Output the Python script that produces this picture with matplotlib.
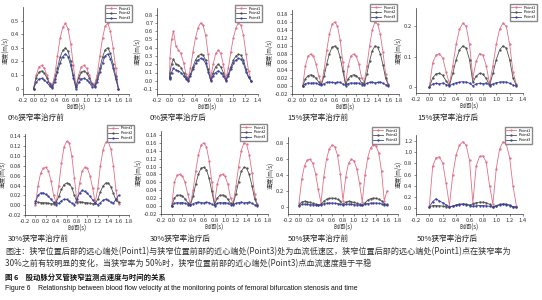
import numpy as np
import matplotlib
matplotlib.use("Agg")
import matplotlib.pyplot as plt

plt.rcParams['font.family'] = ['Noto Sans CJK SC', 'DejaVu Sans']

W, H = 542, 300

# ---------------- data ----------------
t_a = np.round(np.arange(0, 1.601, 0.05), 3)   # 0 .. 1.6
t_b = np.round(np.arange(0, 1.301, 0.05), 3)   # 0 .. 1.3
t_2 = [0, 0.005, 0.03, 0.06, 0.1, 0.14, 0.18, 0.22, 0.26, 0.29, 0.33, 0.37, 0.41,
       0.45, 0.49, 0.53, 0.57, 0.61, 0.65, 0.69, 0.73, 0.77, 0.81, 0.85, 0.89,
       0.93, 0.97, 1.01, 1.05, 1.09, 1.13, 1.17, 1.21, 1.25, 1.29]

# 0% before
p1_0a = [0.0, 0.1, 0.16, 0.17, 0.15, 0.1, 0.04, 0.02, 0.1, 0.24, 0.37, 0.45, 0.48, 0.44, 0.33, 0.17, 0.02,
         0.1, 0.16, 0.17, 0.15, 0.1, 0.04, 0.03, 0.1, 0.24, 0.37, 0.46, 0.48, 0.42, 0.3, 0.15, 0.0]
p2_0a = [0.0, 0.08, 0.12, 0.13, 0.115, 0.08, 0.035, 0.015, 0.07, 0.15, 0.23, 0.28, 0.3, 0.275, 0.2, 0.1, 0.01,
         0.08, 0.12, 0.13, 0.115, 0.08, 0.03, 0.02, 0.07, 0.15, 0.23, 0.285, 0.3, 0.26, 0.18, 0.09, 0.0]
p3_0a = [0.0, 0.045, 0.07, 0.075, 0.065, 0.045, 0.02, 0.005, 0.05, 0.12, 0.19, 0.235, 0.255, 0.235, 0.17, 0.08, 0.0,
         0.045, 0.07, 0.075, 0.065, 0.045, 0.015, 0.01, 0.05, 0.12, 0.19, 0.24, 0.255, 0.22, 0.15, 0.07, 0.0]

# 0% after
p1_0b = [0.05, 0.28, 0.5, 0.6, 0.42, 0.37, 0.33, 0.22, 0.08, 0.02, 0.15, 0.35, 0.52, 0.64, 0.7, 0.67, 0.55, 0.32,
         0.03, 0.2, 0.33, 0.37, 0.33, 0.2, 0.03, 0.15, 0.35, 0.52, 0.64, 0.7, 0.67, 0.55, 0.32, 0.12, 0.0]
p2_0b = [0.03, 0.1, 0.2, 0.26, 0.2, 0.19, 0.16, 0.1, 0.04, 0.01, 0.08, 0.17, 0.25, 0.3, 0.32, 0.31, 0.25, 0.14,
         0.01, 0.1, 0.17, 0.2, 0.17, 0.1, 0.01, 0.08, 0.17, 0.25, 0.3, 0.32, 0.31, 0.25, 0.14, 0.05, 0.0]
p3_0b = [0.02, 0.05, 0.1, 0.15, 0.13, 0.12, 0.1, 0.06, 0.02, 0.0, 0.06, 0.14, 0.21, 0.25, 0.27, 0.26, 0.21, 0.11,
         0.0, 0.06, 0.1, 0.12, 0.1, 0.06, 0.0, 0.06, 0.14, 0.21, 0.25, 0.27, 0.26, 0.21, 0.11, 0.04, 0.0]

# 15% before
p1_15a = [0.0, 0.05, 0.075, 0.08, 0.075, 0.055, 0.025, 0.005, 0.04, 0.09, 0.13, 0.155, 0.16, 0.15, 0.115, 0.06, 0.005,
          0.05, 0.075, 0.08, 0.075, 0.055, 0.02, 0.01, 0.05, 0.1, 0.14, 0.16, 0.155, 0.13, 0.085, 0.03, 0.005]
p2_15a = [0.0, 0.018, 0.026, 0.028, 0.026, 0.019, 0.01, 0.004, 0.025, 0.056, 0.081, 0.097, 0.1, 0.094, 0.072, 0.038, 0.004,
          0.018, 0.026, 0.028, 0.026, 0.019, 0.008, 0.006, 0.031, 0.062, 0.088, 0.1, 0.097, 0.081, 0.053, 0.019, 0.003]
p3_15a = [0.0, 0.006, 0.008, 0.007, 0.008, 0.007, 0.004, 0.002, 0.006, 0.009, 0.01, 0.009, 0.008, 0.01, 0.009, 0.005, 0.001,
          0.006, 0.008, 0.007, 0.008, 0.007, 0.003, 0.003, 0.007, 0.009, 0.01, 0.008, 0.009, 0.01, 0.007, 0.003, 0.001]

# 15% after
p1_15b = [0.0, 0.08, 0.105, 0.11, 0.095, 0.05, 0.01, 0.07, 0.14, 0.19, 0.21, 0.2, 0.14, 0.03,
          0.085, 0.11, 0.105, 0.07, 0.01, 0.07, 0.14, 0.19, 0.21, 0.2, 0.14, 0.05, 0.01]
p2_15b = [0.0, 0.03, 0.043, 0.045, 0.038, 0.02, 0.005, 0.045, 0.09, 0.122, 0.135, 0.128, 0.09, 0.015,
          0.035, 0.045, 0.042, 0.028, 0.005, 0.045, 0.09, 0.122, 0.135, 0.128, 0.09, 0.03, 0.005]
p3_15b = [0.0, 0.01, 0.012, 0.01, 0.013, 0.008, 0.003, 0.01, 0.014, 0.016, 0.017, 0.016, 0.012, 0.004,
          0.01, 0.012, 0.011, 0.013, 0.004, 0.01, 0.014, 0.016, 0.017, 0.016, 0.012, 0.006, 0.003]

# 30% before
p1_30a = [0.0, 0.04, 0.065, 0.075, 0.077, 0.07, 0.05, 0.02, 0.005, 0.04, 0.085, 0.118, 0.13, 0.127, 0.1, 0.055, 0.005,
          0.045, 0.07, 0.077, 0.075, 0.06, 0.035, 0.005, 0.035, 0.08, 0.113, 0.128, 0.13, 0.115, 0.08, 0.03, 0.003]
p2_30a = [0.008, 0.006, 0.005, 0.005, 0.005, 0.004, 0.003, 0.003, 0.006, 0.018, 0.032, 0.042, 0.045, 0.044, 0.036, 0.02, 0.006,
          0.007, 0.006, 0.005, 0.005, 0.004, 0.003, 0.004, 0.012, 0.027, 0.039, 0.045, 0.045, 0.038, 0.024, 0.01, 0.006]
p3_30a = [0.005, 0.02, 0.025, 0.025, 0.022, 0.018, 0.012, 0.006, 0.001, 0.004, 0.009, 0.012, 0.012, 0.008, 0.004, 0.001, 0.012,
          0.025, 0.03, 0.028, 0.024, 0.018, 0.011, 0.004, 0.001, 0.005, 0.01, 0.012, 0.01, 0.006, 0.004, 0.012, 0.02]

# 30% after
p1_30b = [0.0, 0.06, 0.078, 0.08, 0.076, 0.06, 0.03, 0.005, 0.04, 0.09, 0.13, 0.155, 0.16, 0.15, 0.115, 0.06, 0.005,
          0.055, 0.078, 0.08, 0.075, 0.055, 0.02, 0.008, 0.05, 0.1, 0.14, 0.16, 0.156, 0.13, 0.085, 0.03, 0.005]
p2_30b = [0.0, 0.02, 0.027, 0.028, 0.026, 0.018, 0.009, 0.003, 0.025, 0.056, 0.081, 0.096, 0.098, 0.092, 0.07, 0.037, 0.004,
          0.02, 0.027, 0.028, 0.025, 0.017, 0.007, 0.006, 0.031, 0.062, 0.088, 0.098, 0.096, 0.08, 0.052, 0.018, 0.003]
p3_30b = [0.0, 0.007, 0.009, 0.008, 0.009, 0.007, 0.004, 0.002, 0.006, 0.009, 0.01, 0.009, 0.008, 0.01, 0.009, 0.005, 0.001,
          0.007, 0.009, 0.008, 0.009, 0.007, 0.003, 0.003, 0.007, 0.009, 0.01, 0.008, 0.009, 0.01, 0.007, 0.003, 0.001]

# 50% before
p1_50a = [0.05, 0.35, 0.52, 0.59, 0.6, 0.55, 0.42, 0.22, 0.05, 0.38, 0.6, 0.73, 0.78, 0.76, 0.65, 0.42, 0.08,
          0.38, 0.55, 0.6, 0.58, 0.48, 0.3, 0.06, 0.4, 0.62, 0.74, 0.78, 0.77, 0.68, 0.45, 0.08, 0.2]
p2_50a = [0.02, 0.06, 0.07, 0.065, 0.055, 0.045, 0.035, 0.025, 0.03, 0.07, 0.095, 0.107, 0.11, 0.107, 0.095, 0.07, 0.03,
          0.06, 0.07, 0.065, 0.055, 0.045, 0.035, 0.025, 0.05, 0.085, 0.103, 0.11, 0.108, 0.097, 0.075, 0.04, 0.03]
p3_50a = [0.01, 0.03, 0.035, 0.03, 0.028, 0.025, 0.022, 0.018, 0.025, 0.04, 0.046, 0.048, 0.048, 0.046, 0.042, 0.035, 0.018,
          0.03, 0.035, 0.03, 0.028, 0.025, 0.022, 0.018, 0.03, 0.042, 0.047, 0.048, 0.047, 0.044, 0.038, 0.025, 0.02]

# 50% after
p1_50b = [0.05, 0.75, 0.9, 0.91, 0.8, 0.45, 0.05, 0.6, 0.95, 1.12, 1.18, 1.12, 0.85, 0.1,
          0.75, 0.92, 0.93, 0.82, 0.4, 0.08, 0.7, 1.05, 1.18, 1.14, 0.9, 0.4, 0.05]
p2_50b = [0.02, 0.05, 0.05, 0.045, 0.04, 0.03, 0.02, 0.04, 0.06, 0.075, 0.08, 0.075, 0.06, 0.08,
          0.1, 0.11, 0.11, 0.1, 0.07, 0.03, 0.05, 0.07, 0.08, 0.075, 0.06, 0.03, 0.02]
p3_50b = [0.03, 0.12, 0.17, 0.13, 0.1, 0.06, 0.03, 0.04, 0.055, 0.065, 0.07, 0.065, 0.05, 0.035,
          0.045, 0.05, 0.05, 0.045, 0.035, 0.02, 0.04, 0.06, 0.07, 0.065, 0.05, 0.03, 0.02]

captions = ["0%狭窄率治疗前", "0%狭窄率治疗后", "15%狭窄率治疗前", "15%狭窄率治疗后",
            "30%狭窄率治疗前", "30%狭窄率治疗后", "50%狭窄率治疗前", "50%狭窄率治疗后"]
series_names = ["Point1", "Point2", "Point3"]
colors = ["#e07088", "#505050", "#3a4098"]

# panel: time, series, xlim, ylim, yticks, yfmt, pixel rect (L, R, T, B), legend anchor px, caption px
panels = [
    (t_a, [p1_0a, p2_0a, p3_0a], (-0.2, 1.8), (-0.04, 0.6), np.arange(0, 0.51, 0.1), "{:g}",
     (23, 129, 7, 94), (134, 3), (8, 118)),
    (t_2, [p1_0b, p2_0b, p3_0b], (-0.2, 1.4), (-0.16, 0.88), np.arange(-0.1, 0.81, 0.1), "{:.1f}",
     (157, 258, 8, 94), (264, 3), (150, 118)),
    (t_a, [p1_15a, p2_15a, p3_15a], (-0.2, 1.8), (-0.02, 0.19), np.arange(-0.02, 0.181, 0.02), "{:.2f}",
     (292, 399, 10, 94), (399, 2), (287, 118)),
    (t_b, [p1_15b, p2_15b, p3_15b], (-0.2, 1.4), (-0.02, 0.26), np.arange(0, 0.21, 0.1), "{:g}",
     (416, 523, 8, 93), (539, 2), (417, 118)),
    (t_a, [p1_30a, p2_30a, p3_30a], (-0.2, 1.8), (-0.02, 0.145), np.arange(-0.02, 0.141, 0.02), "{:.2f}",
     (25, 129, 134, 215), (136, 123), (8, 239)),
    (t_a, [p1_30b, p2_30b, p3_30b], (-0.2, 1.8), (-0.02, 0.19), np.arange(-0.02, 0.181, 0.02), "{:.2f}",
     (161, 268, 131, 214), (269, 122), (150, 239)),
    (t_a, [p1_50a, p2_50a, p3_50a], (-0.2, 1.8), (-0.09, 0.88), np.arange(0, 0.81, 0.2), "{:g}",
     (288, 398, 137, 214), (401, 125), (288, 239)),
    (t_b, [p1_50b, p2_50b, p3_50b], (-0.2, 1.4), (-0.1, 1.3), np.arange(0, 1.21, 0.2), "{:.1f}",
     (416, 523, 135, 214), (534, 125), (417, 239)),
]

fig = plt.figure(figsize=(W / 100, H / 100), dpi=100)
fig.patch.set_facecolor("white")

for i, (t, ser, xl, yl, yt, yfmt, rect, leg, cap) in enumerate(panels):
    L, R, T, B = rect
    ax = fig.add_axes([L / W, 1 - B / H, (R - L) / W, (B - T) / H])
    for s, name, c in zip(ser, series_names, colors):
        ax.plot(t, s, color=c, lw=0.6, marker=".", ms=1.3, label=name)
    ax.set_xlim(*xl)
    ax.set_ylim(*yl)
    xt = np.round(np.arange(xl[0], xl[1] + 0.01, 0.2), 1)
    ax.set_xticks(xt)
    ax.set_xticklabels([f"{v:.1f}" for v in xt])
    ax.set_yticks(yt)
    labs = []
    for v in yt:
        v = round(v, 3)
        if abs(v) < 1e-9:
            v = 0.0
        labs.append(yfmt.format(v))
    ax.set_yticklabels(labs)
    for sp in ("top", "right"):
        ax.spines[sp].set_visible(False)
    for sp in ("left", "bottom"):
        ax.spines[sp].set_linewidth(0.5)
        ax.spines[sp].set_color("#333333")
    ax.tick_params(labelsize=4.2, width=0.4, length=1.5, pad=1.2, colors="#333333")
    ax.set_xlabel("时间(s)", fontsize=4.4, labelpad=0.5, color="#333333")
    ax.set_ylabel("速度(m/s)", fontsize=4.4, labelpad=1, color="#333333")
    fig.legend(ax.get_lines(), series_names, loc="upper right",
               bbox_to_anchor=(leg[0] / W, 1 - leg[1] / H), fontsize=2.8,
               frameon=True, fancybox=False, edgecolor="#888888", framealpha=1,
               handlelength=2.5, borderpad=0.4, labelspacing=0.2, handletextpad=0.6)
    fig.text(cap[0] / W, 1 - cap[1] / H, captions[i], fontsize=5.5, va="center", ha="left",
             color="#222222")

cap_lines = [
    "图注：狭窄位置后部的远心端处(Point1)与狭窄位置前部的近心端处(Point3)处为血流低速区，狭窄位置后部的远心端处(Point1)点在狭窄率为",
    "30%之前有较明显的变化，当狭窄率为 50%时，狭窄位置前部的近心端处(Point3)点血流速度趋于平稳",
]
fig.text(5 / W, 1 - 252 / H, cap_lines[0], fontsize=5.85, va="center", ha="left", color="#333333")
fig.text(5 / W, 1 - 264 / H, cap_lines[1], fontsize=5.85, va="center", ha="left", color="#333333")
fig.text(5 / W, 1 - 277 / H, "图 6　股动脉分叉管狭窄监测点速度与时间的关系", fontsize=5.3,
         va="center", ha="left", color="#111111", fontweight="bold")
fig.text(5 / W, 1 - 289 / H,
         "Figure 6    Relationship between blood flow velocity at the monitoring points of femoral bifurcation stenosis and time",
         fontsize=4.95, va="center", ha="left", color="#111111", family=["Liberation Sans", "DejaVu Sans"])

fig.savefig("out.png", dpi=100)
